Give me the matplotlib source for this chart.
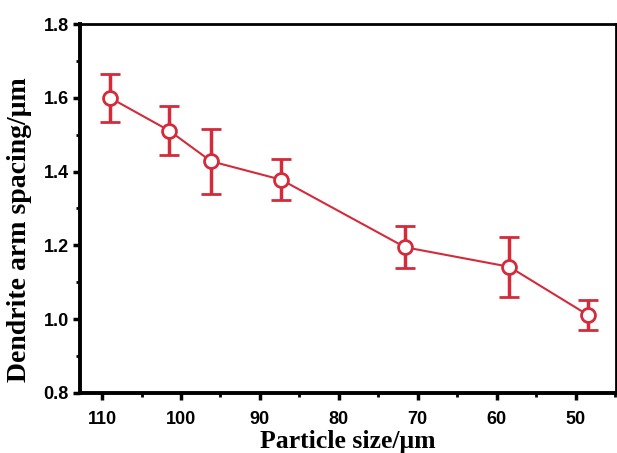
import matplotlib
matplotlib.use("Agg")
import matplotlib.pyplot as plt
from matplotlib.ticker import MultipleLocator

# particle size (um) vs dendrite arm spacing (um)
particle_size = [109.0, 101.5, 96.2, 87.3, 71.6, 58.4, 48.4]
arm_spacing = [1.600, 1.511, 1.428, 1.378, 1.195, 1.142, 1.011]
arm_err = [0.065, 0.066, 0.088, 0.055, 0.057, 0.082, 0.040]

x_ticks = [110, 100, 90, 80, 70, 60, 50]
y_ticks = [0.8, 1.0, 1.2, 1.4, 1.6, 1.8]

red = "#d42a3a"

fig = plt.figure(figsize=(6.17, 4.53), dpi=100)
ax = fig.add_axes([0.1297, 0.1325, 0.8683, 0.8145])

ax.errorbar(particle_size, arm_spacing, yerr=arm_err, color=red, lw=1.5,
            marker="o", ms=10, mfc="white", mec=red, mew=2,
            elinewidth=2.5, capsize=7, capthick=2.5, zorder=3)

ax.set_xlim(112.8, 44.9)
ax.set_ylim(0.8, 1.8)
ax.set_xticks(x_ticks)
ax.set_yticks(y_ticks)
ax.set_yticklabels([f"{v:.1f}" for v in y_ticks])
ax.xaxis.set_minor_locator(MultipleLocator(5))
ax.yaxis.set_minor_locator(MultipleLocator(0.1))

ax.tick_params(which="major", direction="out", length=5, width=2.5,
               top=False, right=False)
ax.tick_params(axis="x", which="major", pad=8)
ax.tick_params(axis="y", which="major", pad=3)
ax.tick_params(which="minor", direction="out", length=3, width=2,
               top=False, right=False)
for lab in ax.get_xticklabels() + ax.get_yticklabels():
    lab.set_fontfamily("Liberation Sans")
    lab.set_fontweight("bold")
    lab.set_fontsize(13)

for side in ["left", "bottom"]:
    ax.spines[side].set_linewidth(2.8)
for side in ["top", "right"]:
    ax.spines[side].set_linewidth(2)

ax.set_xlabel("Particle size/μm", family="Liberation Serif",
              fontweight="bold", fontsize=18.5)
ax.xaxis.set_label_coords(0.5, -0.1)
ax.set_ylabel("Dendrite arm spacing/μm", family="Liberation Serif",
              fontweight="bold", fontsize=20)
ax.yaxis.set_label_coords(-0.09, 0.442)

fig.savefig("out.png", dpi=100)
